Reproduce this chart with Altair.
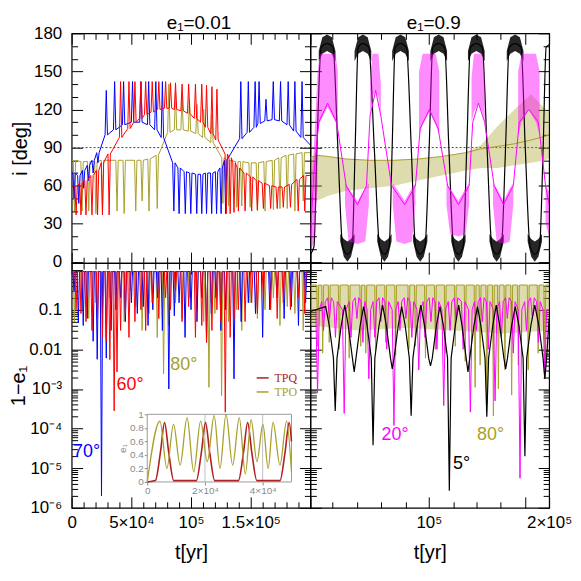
import altair as alt
import pandas as pd

FONT = "Liberation Sans"
BLUE, RED, OLIVE, MAG, BLACK = "#0000ff", "#ff0000", "#a8a02a", "#ff00ff", "#000000"
TPQ_C = "#b02020"
GRAY = "#8a8a8a"

# ---------------- data (t in kyr) ----------------
# top-left: inclination spikes (spike time, baseline, spike extreme)
blue_t = [2, 6, 10, 14, 18, 22, 29, 36, 43.5, 51, 58, 64.5, 70.5, 76, 85.6, 90, 95.2, 99.8, 104.8, 109, 113,
          117.3, 121.4, 125.2, 129, 141.7, 148, 153.7, 157, 162.8, 168.9, 175, 181.4, 187, 193]
blue_base = [70, 68, 72, 76, 80, 86, 100, 104, 108, 110, 110, 108, 104, 98, 78, 74, 71, 70, 69, 69, 70, 70, 71,
             74, 80, 97, 102, 106, 109, 111, 112, 111, 108, 103, 98]
blue_peak = [50, 46, 58, 64, 70, 78, 135, 142, 142, 142, 142, 142, 142, 142, 40, 38, 38, 38, 38, 38, 38, 38, 38,
             38, 38, 142, 142, 142, 142, 128, 142, 142, 142, 142, 142]
red_t = [3.7, 7.8, 12, 17, 21.7, 25.8, 31.4, 41, 48, 53, 58, 62, 67.5, 73, 78.7, 82.8, 87, 92.5, 98, 103.7, 109,
         113, 117.5, 121.7, 129.5, 132.8, 136, 139.7, 145.3, 150.8, 155.6, 160.6, 166.7, 172.2, 177.3, 183.3,
         189.8, 195.3]
red_base = [60, 62, 64, 68, 72, 78, 85, 98, 105, 110, 113, 116, 118, 120, 121, 121, 120, 119, 117, 113, 110, 106,
            101, 96, 85, 82, 78, 74, 70, 67, 64, 62, 60, 59, 59, 61, 65, 68]
red_peak = [37, 37, 37, 37, 37, 37, 37, 142, 142, 142, 142, 142, 142, 142, 142, 141, 141, 140, 140, 140, 140, 139,
            138, 136, 38, 38, 39, 40, 40, 40, 41, 42, 42, 42, 43, 43, 40, 40]
olive_t = [2.3, 8.7, 14.3, 20.3, 25.8, 38, 44, 53.7, 59, 64.8, 71.7, 81.4, 87, 92.5, 98.7, 105, 110.6, 117.5,
           126.7, 131.4, 138.3, 142.5, 149.5, 155.6, 162, 169, 174.5, 180.6, 187, 194]
olive_base = [80, 79, 79, 79, 80, 80, 80, 80, 80, 81, 84, 102, 104, 104, 103, 101, 98, 94, 82, 80, 79, 79, 78, 78,
              79, 80, 82, 84, 85, 86]
olive_peak = [40, 40, 40, 38, 40, 40, 38, 40, 48, 40, 42, 140, 134, 130, 128, 124, 120, 116, 46, 44, 43, 44, 43,
              40, 40, 41, 42, 42, 40, 48]

# bottom-left: 1-e1 dips
blue2_t = [2, 5.6, 9.7, 13, 18, 21.4, 25, 29, 33, 37, 41, 45, 50, 55, 60, 64, 68, 72, 76, 81.4, 86, 90, 95, 100,
           105, 109, 113, 117, 121, 125, 129, 136, 142, 148, 154, 160, 166, 172, 178, 184, 190, 196]
blue2_d = [0.3, 0.047, 0.04, 0.06, 0.016, 0.0056, 0.000002, 0.006, 0.03, 0.1, 0.2, 0.05, 0.15, 0.08, 0.12, 0.04,
           0.1, 0.2, 0.03, 0.001, 0.07, 0.15, 0.02, 0.1, 0.05, 0.2, 0.015, 0.08, 0.2, 0.03, 0.1, 0.0018, 0.05,
           0.15, 0.08, 0.02, 0.1, 0.2, 0.06, 0.12, 0.04, 0.15]
red2_t = [3.7, 7.8, 12, 17, 21.7, 25.8, 29, 32, 35.6, 38, 41, 45, 48, 53, 58, 62, 67.5, 73, 78.7, 82.8, 87, 92.5,
          98, 103.7, 109, 113, 117.5, 121.7, 125, 128.7, 132.8, 136, 139.7, 145.3, 150.8, 155.6, 160.6, 166.7,
          172.2, 177.3, 183.3, 189.8, 195.3]
red2_d = [0.1, 0.08, 0.05, 0.03, 0.06, 0.02, 0.016, 0.0055, 0.00028, 0.0027, 0.03, 0.08, 0.02, 0.05, 0.1, 0.03,
          0.15, 0.06, 0.2, 0.1, 0.3, 0.05, 0.12, 0.02, 0.04, 0.015, 0.03, 0.1, 0.05, 0.00026, 0.02, 0.06, 0.1,
          0.05, 0.15, 0.08, 0.2, 0.1, 0.06, 0.15, 0.1, 0.2, 0.08]
olive2_t = [2.3, 8.7, 14.3, 20.3, 25.8, 32, 38, 44, 49, 53.7, 59, 64.8, 71.7, 77, 81.4, 87, 92.5, 98.7, 105,
            110.6, 115, 120, 125.6, 131.4, 138.3, 142.5, 149.5, 155.6, 162, 169, 174.5, 180.6, 187, 194]
olive2_d = [0.05, 0.1, 0.06, 0.15, 0.08, 0.2, 0.1, 0.05, 0.3, 0.12, 0.03, 0.08, 0.02, 0.0024, 0.04, 0.15, 0.06,
            0.2, 0.1, 0.05, 0.0011, 0.08, 0.00068, 0.05, 0.1, 0.03, 0.15, 0.06, 0.1, 0.2, 0.04, 0.12, 0.08, 0.03]
top_level_left = 0.92

# top-right: black (5 deg) slow flips
bk_t = [0, 3, 5.5, 9, 14, 19, 23, 27, 31, 35, 37.5, 40, 44, 49, 53.5, 58, 62, 66, 68.5, 71, 75.5, 80.5, 84.5, 88,
        92, 96, 99.5, 102.5, 107.5, 112.5, 116, 120, 124, 128, 131, 134, 139, 144, 148, 152, 156, 160, 163.5,
        166.5, 171.5, 176.5, 180, 184, 188, 192, 195, 197.5, 200]
bk_v = [6, 12, 90, 169, 172, 169, 90, 12, 6, 12, 90, 169, 172, 169, 90, 12, 6, 12, 90, 169, 172, 169, 90, 12, 6,
        12, 90, 169, 172, 169, 90, 12, 6, 12, 90, 169, 172, 169, 90, 12, 6, 12, 90, 169, 172, 169, 90, 12, 6, 12,
        90, 169, 171]
bk_top_c = [14, 44, 75.5, 107.5, 139, 171.5]
bk_bot_c = [31, 62, 92, 124, 156, 188]
COMB_TOP_DT, COMB_TOP_LO, COMB_TOP_HI = [-7, -4, 0, 4, 7], [158, 164, 166, 164, 158], [166, 177, 179, 177, 166]
COMB_BOT_DT, COMB_BOT_LO, COMB_BOT_HI = [-6, -3, 0, 3, 6], [16, 4, 0, 4, 16], [22, 18, 16, 18, 22]

# top-right: magenta (20 deg)
mg_t = [0, 3, 7, 14.4, 22, 30, 39.4, 47, 50, 54.7, 59, 68, 79, 88, 92, 99.7, 107, 115, 124, 133, 136, 140.8, 146,
        154, 161.7, 170, 175, 183, 191, 197, 200]
mg_v = [20, 70, 110, 125, 110, 60, 45, 60, 115, 135, 115, 60, 45, 60, 105, 120, 105, 60, 45, 60, 110, 125, 110,
        60, 45, 60, 110, 120, 110, 60, 45]
mg_band_seg = [0] * 3 + [1] * 5 + [2] * 5 + [3] * 5 + [4] * 5 + [5] * 5 + [6] * 5 + [7] * 5 + [8] * 5 + [9] * 5 + [10] * 2
mg_band_t = [0.5, 3, 6, 6, 8, 14.4, 21, 23, 29, 32, 39.4, 46, 49, 50, 52, 54.7, 57, 59, 69, 72, 79, 85, 88,
             91, 94, 99.7, 105, 108, 114, 117, 124, 130, 133, 135, 137, 140.8, 144, 146, 153, 156, 161.7, 167, 170,
             174, 177, 183, 189, 192, 197, 200]
mg_band_lo = [10, 15, 60, 100, 110, 122, 110, 100, 45, 16, 14, 16, 45, 115, 130, 135, 130, 115, 45, 16, 14, 16, 45,
              100, 108, 118, 108, 100, 45, 22, 20, 22, 45, 110, 118, 125, 118, 110, 45, 16, 14, 16, 45,
              100, 110, 120, 110, 100, 30, 20]
mg_band_hi = [60, 90, 150, 150, 164, 164, 164, 150, 62, 58, 48, 58, 62, 140, 164, 164, 164, 140, 62, 58, 48, 58, 62,
              150, 164, 164, 164, 150, 62, 58, 48, 58, 62, 145, 164, 164, 164, 145, 62, 58, 48, 58, 62,
              150, 164, 164, 164, 150, 60, 55]

# top-right: olive (80 deg) dense oscillation envelope
olr_t = [0, 5, 15, 30, 50, 70, 90, 110, 130, 143, 157, 171, 185, 197, 200]
olr_lo = [70, 48, 52, 56, 58, 60, 64, 68, 72, 74, 74, 76, 78, 80, 82]
olr_hi = [82, 84, 83, 81, 80, 80, 81, 83, 86, 92, 107, 120, 132, 120, 118]
olr_base = [82, 84, 83, 81, 80, 80, 81, 83, 86, 89, 91, 93, 96, 99, 100]

# bottom-right
bk2_t = [20.8, 36.7, 52.5, 68.6, 84.4, 100.6, 116.4, 132, 147.8, 163.6, 179.7, 196.4]
bk2_d = [0.00028, 0.0027, 0.000038, 0.0032, 0.00021, 0.0038, 0.0000027, 0.0027, 0.0002, 0.0032, 0.00002, 0.0018]
bk2_pk_t = [0, 12.8, 28.8, 44.6, 60.5, 76.5, 92.5, 108.5, 124.2, 140, 155.7, 171.6, 188, 200]
bk2_pk_v = [0.09, 0.12, 0.13, 0.12, 0.13, 0.12, 0.13, 0.12, 0.13, 0.12, 0.13, 0.12, 0.13, 0.06]
ARC_DT, ARC_V = [-5, -1.5, 1.5, 5], [0.04, 0.006, 0.006, 0.04]
mg2_t = [6, 11, 16, 21, 28.3, 34, 39, 44, 49, 54, 59, 64, 70, 75, 80, 85, 90.8, 96, 101, 106, 111.7, 117, 122, 128,
         134, 139, 144, 149, 154.7, 160, 165, 170, 175.6, 181, 186, 191, 196.4]
mg2_d = [0.0008, 0.03, 0.06, 0.02, 0.00024, 0.02, 0.06, 0.015, 0.0018, 0.02, 0.05, 0.01, 0.00012, 0.03, 0.06, 0.02,
         0.003, 0.02, 0.05, 0.01, 0.00038, 0.03, 0.06, 0.01, 0.00026, 0.03, 0.05, 0.01, 0.0005, 0.02, 0.06, 0.008,
         0.0000056, 0.03, 0.06, 0.015, 0.0018]
mg2_b = [0.1, 0.16, 0.2, 0.16] * 9 + [0.1]
olR_t = [6.1, 10.3, 15.8, 24.2, 32.5, 42.2, 46.4, 54.7, 63, 71.4, 82.5, 88, 96.4, 104.7, 113, 121.4, 129.7, 138,
         142.2, 147.8, 153.3, 157.5, 163, 168.6, 174.2, 182.5, 190.8, 196.4]
olR_d = [0.012, 0.008, 0.015, 0.01, 0.006, 0.012, 0.008, 0.01, 0.015, 0.007, 0.01, 0.012, 0.006, 0.01, 0.008,
         0.012, 0.005, 0.0011, 0.004, 0.0004, 0.00021, 0.001, 0.003, 0.0007, 0.004, 0.003, 0.008, 0.005]
olR_top = 0.42
olR_band_t = [0, 40, 80, 120, 160, 200]
olR_band_lo = [0.04, 0.03, 0.035, 0.03, 0.025, 0.03]

# inset (e1 vs t, t in kyr)
tpq_t = [0, 2.8, 4.6, 6, 7.4, 9.2, 17, 18.8, 20.2, 21.6, 23.4, 31.6, 33.4, 34.8, 36.2, 38, 46, 47.8, 49.2, 50]
tpq_e = [0, 0.02, 0.45, 0.88, 0.45, 0.02, 0.02, 0.45, 0.88, 0.45, 0.02, 0.02, 0.45, 0.88, 0.45, 0.02, 0.02, 0.45,
         0.88, 0.6]
tpo_t = [0, 4.4, 6.8, 9.1, 11.4, 13.8, 16.1, 18.5, 20.8, 23.2, 25.2, 27.3, 29.6, 31.9, 34, 36, 38, 40.1, 41.9,
         43.6, 46, 48.3, 50]
tpo_e = [0, 0.9, 0.2, 0.85, 0.25, 0.95, 0.15, 0.9, 0.3, 0.98, 0.2, 1.0, 0.25, 0.95, 0.12, 0.92, 0.3, 0.85, 0.2,
         0.88, 0.25, 0.9, 0.15]

# annotations
bl_ann = {"s": ["70°", "60°", "80°"], "t": [12.5, 49, 94], "v": [2.5e-5, 1.26e-3, 4e-3], "c": [BLUE, RED, OLIVE]}
br_ann = {"s": ["20°", "80°", "5°"], "t": [71, 151, 126.7], "v": [7e-5, 7e-5, 1.26e-5], "c": [MAG, OLIVE, BLACK]}
leg = {"s": ["TPQ", "TPO"], "t0": [155, 155], "t1": [165, 165], "tt": [170, 170], "v": [1.9e-3, 8.4e-4],
       "c": [TPQ_C, OLIVE]}

# axis ticks / labels
x_left_major = [0, 50, 100, 150, 200]
x_left_labels = ["0", "5×10⁴", "10⁵", "1.5×10⁵", ""]
x_left_minor = [10, 20, 30, 40, 60, 70, 80, 90, 110, 120, 130, 140, 160, 170, 180, 190]
x_right_major = [99.2, 180, 200]
x_right_labels = ["10⁵", "", "2×10⁵"]
x_right_minor = [18.6, 39.4, 58.9, 79.7, 120, 139.4, 158.9]
y_top_major = [0, 30, 60, 90, 120, 150, 180]
y_top_labels = ["0", "30", "60", "90", "120", "150", "180"]
y_top_minor = [10, 20, 40, 50, 70, 80, 100, 110, 130, 140, 160, 170]
y_bot_major = [1, 0.1, 0.01, 0.001, 0.0001, 0.00001, 0.000001]
y_bot_labels = ["", "0.1", "0.01", "10⁻³", "10⁻⁴", "10⁻⁵", "10⁻⁶"]
y_bot_minor = [k * 10.0 ** e for e in range(-6, 1) for k in range(2, 10) if k * 10.0 ** e <= 1.5]
inset_x_vals, inset_x_labels = [0, 20, 40], ["0", "2×10⁴", "4×10⁴"]
inset_y_vals, inset_y_labels = [0, 0.2, 0.4, 0.6, 0.8, 1], ["0", "0.2", "0.4", "0.6", "0.8", "1"]
inset_grid_t = [20, 40]

LABEL_SIZE, TITLE_SIZE = 17, 20

# ---------------- scales ----------------
XS = alt.Scale(domain=[0, 200], nice=False, zero=False)
YT = alt.Scale(domain=[-1, 180], nice=False, zero=False)
YB = alt.Scale(type="log", domain=[1e-6, 1.5], nice=False)
XI = alt.Scale(domain=[0, 50], range=[76, 221], nice=False, zero=False)
YI = alt.Scale(domain=[0, 1], range=[220, 152], nice=False, zero=False)


def lab_expr(vals, labs):
    s = "''"
    for v, l in reversed(list(zip(vals, labs))):
        s = f"datum.value == {v!r} ? '{l}' : ({s})"
    return s


def spikes(ts, bases, peaks, w, start=None, end=None):
    if not isinstance(bases, list):
        bases = [bases] * len(ts)
    tt, vv = [], []
    if start:
        tt.append(start[0]); vv.append(start[1])
    for t, b, p in zip(ts, bases, peaks):
        tt += [t - w, t, t + w]
        vv += [b, p, b]
    if end:
        tt.append(end[0]); vv.append(end[1])
    return pd.DataFrame({"t": tt, "v": vv, "o": list(range(len(tt)))})


def seq(ts, vs):
    return pd.DataFrame({"t": ts, "v": vs, "o": list(range(len(ts)))})


def line(df, color, xs, ys, width=1.0, interp="linear", opacity=1.0):
    return alt.Chart(df).mark_line(color=color, strokeWidth=width, interpolate=interp, opacity=opacity,
                                   clip=True).encode(
        x=alt.X("t:Q", scale=xs, axis=None), y=alt.Y("v:Q", scale=ys, axis=None), order="o:Q")


def band(df, color, xs, ys, opacity):
    return alt.Chart(df).mark_area(color=color, opacity=opacity, clip=True).encode(
        x=alt.X("t:Q", scale=xs, axis=None), y=alt.Y("lo:Q", scale=ys, axis=None), y2="hi:Q",
        detail="seg:N")


def texts(d, xs, ys, size=18, font=FONT, align="center"):
    return alt.Chart(pd.DataFrame(d)).mark_text(fontSize=size, font=font, align=align, baseline="middle").encode(
        x=alt.X("t:Q", scale=xs, axis=None), y=alt.Y("v:Q", scale=ys, axis=None), text="s:N",
        color=alt.Color("c:N", scale=None))


def axis(orient, values, size, expr=None, title=None, lab_pad=10, title_pad=8, offset=None, color="black",
         fsize=LABEL_SIZE, tsize=TITLE_SIZE, tick_color="black", lab_opacity=1):
    kw = dict(orient=orient, values=values, tickSize=size, offset=(-size if offset is None else offset),
              domain=False, grid=False, ticks=True, tickColor=tick_color, tickWidth=1, labelFlush=False,
              labelOverlap=False)
    if expr is not None:
        kw.update(labels=True, labelExpr=expr, labelFont=FONT, labelFontSize=fsize, labelColor=color,
                  labelPadding=lab_pad, labelOpacity=lab_opacity)
    else:
        kw.update(labels=False)
    if title is not None:
        kw.update(title=title, titleFont=FONT, titleFontSize=tsize, titleFontWeight="normal", titleColor=color,
                  titlePadding=title_pad)
    else:
        kw.update(title=None)
    return alt.Axis(**kw)


def frame_layers(xs, ys, x0, y0, xmaj, xmin, ymaj, ymin, xexpr=None, yexpr=None, xtitle=None, ytitle=None,
                 ytitle_pad=4, ylab_opacity=1):
    d = pd.DataFrame({"x": [x0], "y": [y0]})

    def L(xa, ya):
        return alt.Chart(d).mark_point(opacity=0).encode(
            x=alt.X("x:Q", scale=xs, axis=xa), y=alt.Y("y:Q", scale=ys, axis=ya))

    return [
        L(axis("bottom", xmaj, 11, xexpr, xtitle, lab_pad=7, title_pad=12),
          axis("left", ymaj, 11, yexpr, ytitle, lab_pad=10, title_pad=ytitle_pad, lab_opacity=ylab_opacity)),
        L(axis("bottom", xmin, 6), axis("left", ymin, 6)),
        L(axis("top", xmaj, 11), axis("right", ymaj, 11)),
        L(axis("top", xmin, 6), axis("right", ymin, 6)),
    ]


def rule90():
    return alt.Chart(pd.DataFrame({"v": [90]})).mark_rule(color="#444444", strokeDash=[2, 2], strokeWidth=1).encode(
        y=alt.Y("v:Q", scale=YT, axis=None))


def title(text, dx, offset):
    return alt.TitleParams(text=text, font=FONT, fontSize=19, fontWeight="normal", frame="group",
                           anchor="middle", offset=offset, dx=dx)


TITLE_OFFSET = -9

# ---------------- top-left ----------------
W = 1.0
tl = alt.layer(
    rule90(),
    line(spikes(olive_t, olive_base, olive_peak, W, (0, 80), (200, 86)), OLIVE, XS, YT),
    line(spikes(blue_t, blue_base, blue_peak, W, (0, 70), (200, 92)), BLUE, XS, YT),
    line(spikes(red_t, red_base, red_peak, W, (0, 60), (200, 68)), RED, XS, YT),
    *frame_layers(XS, YT, 0, 0, x_left_major, x_left_minor, y_top_major, y_top_minor,
                  yexpr=lab_expr(y_top_major, y_top_labels), ytitle="i [deg]", ytitle_pad=3),
).resolve_scale(x="independent", y="independent").properties(width=240, height=231,
                                                             title=title("e₁=0.01", 8, TITLE_OFFSET))

# ---------------- top-right ----------------
comb_rows = {"seg": [], "t": [], "lo": [], "hi": []}
for k, c in enumerate(bk_top_c):
    for dt, lo, hi in zip(COMB_TOP_DT, COMB_TOP_LO, COMB_TOP_HI):
        comb_rows["seg"].append(f"a{k}"); comb_rows["t"].append(c + dt)
        comb_rows["lo"].append(lo); comb_rows["hi"].append(hi)
for k, c in enumerate(bk_bot_c):
    for dt, lo, hi in zip(COMB_BOT_DT, COMB_BOT_LO, COMB_BOT_HI):
        comb_rows["seg"].append(f"b{k}"); comb_rows["t"].append(c + dt)
        comb_rows["lo"].append(lo); comb_rows["hi"].append(hi)

tr = alt.layer(
    rule90(),
    band(pd.DataFrame({"seg": [0] * len(olr_t), "t": olr_t, "lo": olr_lo, "hi": olr_hi}), OLIVE, XS, YT, 0.38),
    line(seq(olr_t, olr_base), OLIVE, XS, YT),
    band(pd.DataFrame(comb_rows), BLACK, XS, YT, 0.85),
    line(seq(bk_t, bk_v), BLACK, XS, YT, width=1.2, interp="monotone"),
    band(pd.DataFrame({"seg": mg_band_seg, "t": mg_band_t, "lo": mg_band_lo, "hi": mg_band_hi}), MAG, XS, YT, 0.45),
    line(seq(mg_t, mg_v), MAG, XS, YT),
    *frame_layers(XS, YT, 0, 0, x_right_major, x_right_minor, y_top_major, y_top_minor,
                  yexpr=lab_expr(y_top_major, y_top_labels), ylab_opacity=0),
).resolve_scale(x="independent", y="independent").properties(width=240, height=231,
                                                             title=title("e₁=0.9", 4, TITLE_OFFSET))

# ---------------- bottom-left ----------------
inset_frame = alt.Chart(pd.DataFrame({"x0": [0], "x1": [50], "y0": [0], "y1": [1]})).mark_rect(
    fill="white", stroke="#999999", strokeWidth=1).encode(
    x=alt.X("x0:Q", scale=XI, axis=None), x2="x1:Q", y=alt.Y("y0:Q", scale=YI, axis=None), y2="y1:Q")
inset_grid = alt.Chart(pd.DataFrame({"t": inset_grid_t, "y0": [0, 0], "y1": [1, 1]})).mark_rule(
    color="#b0b0b0", strokeWidth=0.8).encode(
    x=alt.X("t:Q", scale=XI, axis=None), y=alt.Y("y0:Q", scale=YI, axis=None), y2="y1:Q")
inset_axes = alt.Chart(pd.DataFrame({"x": [0], "y": [0]})).mark_point(opacity=0).encode(
    x=alt.X("x:Q", scale=XI, axis=axis("bottom", inset_x_vals, 3, lab_expr(inset_x_vals, inset_x_labels),
                                       offset=-26, lab_pad=1, color=GRAY, fsize=10, tick_color=GRAY)),
    y=alt.Y("y:Q", scale=YI, axis=axis("left", inset_y_vals, 3, lab_expr(inset_y_vals, inset_y_labels),
                                       title="e₁", offset=-76, lab_pad=1, title_pad=2, color=GRAY, fsize=10,
                                       tsize=10, tick_color=GRAY)))
legend_rules = alt.Chart(pd.DataFrame(leg)).mark_rule(strokeWidth=1.5).encode(
    x=alt.X("t0:Q", scale=XS, axis=None), x2="t1:Q", y=alt.Y("v:Q", scale=YB, axis=None),
    color=alt.Color("c:N", scale=None))
legend_text = alt.Chart(pd.DataFrame(leg)).mark_text(font="Liberation Serif", fontSize=12, align="left",
                                                      baseline="middle").encode(
    x=alt.X("tt:Q", scale=XS, axis=None), y=alt.Y("v:Q", scale=YB, axis=None), text="s:N",
    color=alt.Color("c:N", scale=None))

WB = 1.0
bl = alt.layer(
    line(spikes(olive2_t, top_level_left, olive2_d, WB, (0, 0.9), (200, 0.9)), OLIVE, XS, YB),
    line(spikes(blue2_t, top_level_left, blue2_d, WB, (0, 0.9), (200, 0.9)), BLUE, XS, YB),
    line(spikes(red2_t, top_level_left, red2_d, WB, (0, 0.9), (200, 0.9)), RED, XS, YB),
    texts(bl_ann, XS, YB),
    legend_rules, legend_text,
    inset_frame, inset_grid,
    line(seq(tpq_t, tpq_e), TPQ_C, XI, YI, width=1.6, interp="monotone"),
    line(seq(tpo_t, tpo_e), OLIVE, XI, YI, width=1.3, interp="monotone"),
    inset_axes,
    *frame_layers(XS, YB, 0, 1e-6, x_left_major, x_left_minor, y_bot_major, y_bot_minor,
                  xexpr=lab_expr(x_left_major, x_left_labels), yexpr=lab_expr(y_bot_major, y_bot_labels),
                  xtitle="t[yr]", ytitle="1−e₁", ytitle_pad=0),
).resolve_scale(x="independent", y="independent").properties(width=240, height=246)

# ---------------- bottom-right ----------------
pts = list(zip(bk2_pk_t, bk2_pk_v))
for t, d in zip(bk2_t, bk2_d):
    pts += [(t + dt, v) for dt, v in zip(ARC_DT, ARC_V)] + [(t, d)]
pts.sort()
bk2_df = seq([p[0] for p in pts], [p[1] for p in pts])

br = alt.layer(
    band(pd.DataFrame({"seg": [0] * len(olR_band_t), "t": olR_band_t, "lo": olR_band_lo,
                       "hi": [olR_top] * len(olR_band_t)}), OLIVE, XS, YB, 0.38),
    line(spikes(olR_t, olR_top, olR_d, 0.8, (0, olR_top), (200, olR_top)), OLIVE, XS, YB),
    line(spikes(mg2_t, mg2_b, mg2_d, 1.5, (0, 0.1), (200, 0.1)), MAG, XS, YB),
    line(bk2_df, BLACK, XS, YB, width=1.2),
    texts(br_ann, XS, YB),
    *frame_layers(XS, YB, 0, 1e-6, x_right_major, x_right_minor, y_bot_major, y_bot_minor,
                  xexpr=lab_expr(x_right_major, x_right_labels), xtitle="t[yr]"),
).resolve_scale(x="independent", y="independent").properties(width=240, height=246)

chart = alt.concat(tl, tr, bl, br, columns=2, spacing=0, bounds="flush", align="each",
                   padding={"left": 0, "top": 4, "right": 0, "bottom": 0}).configure_view(
    stroke="black", strokeWidth=1.2)

chart.save("out.html", embed_options={"renderer": "svg", "actions": False})
